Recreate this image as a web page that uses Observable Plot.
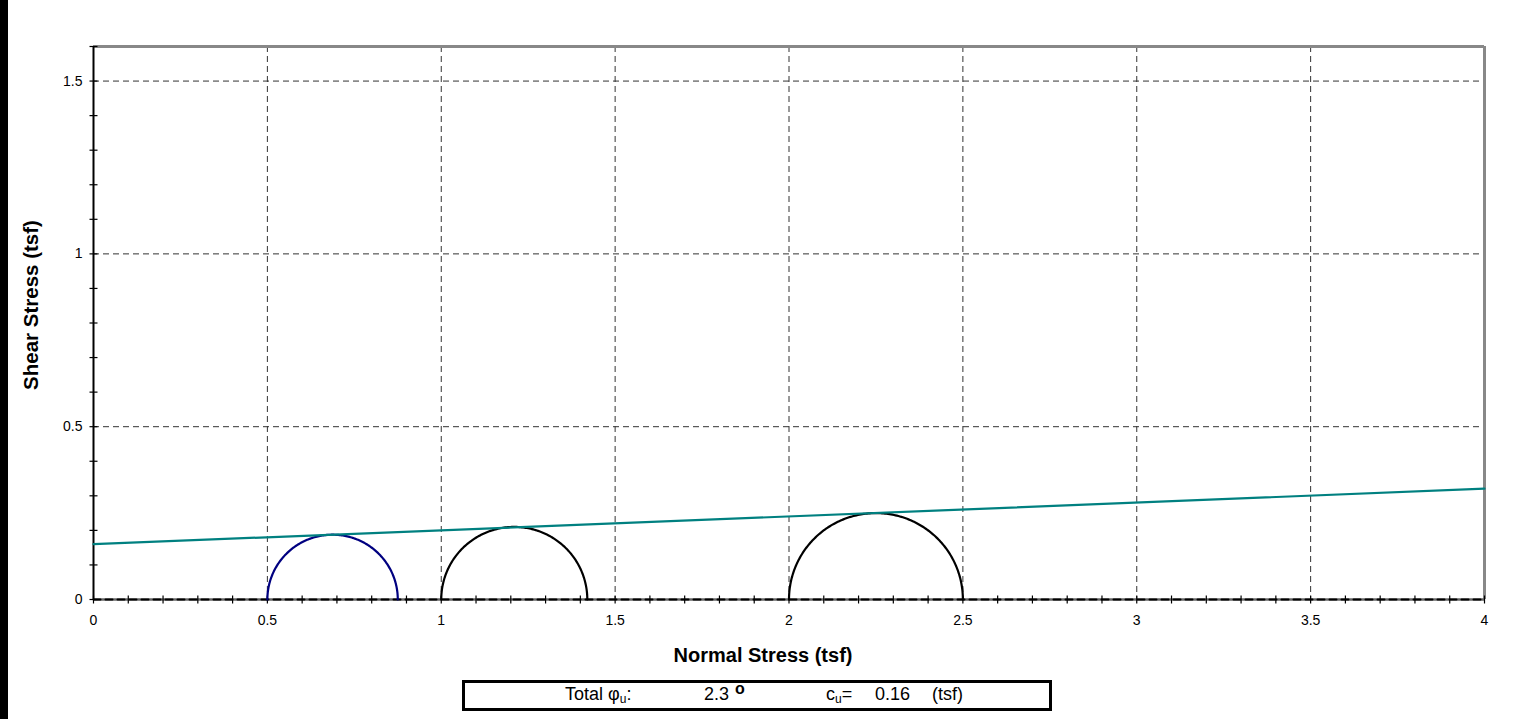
<!DOCTYPE html>
<html>
<head>
<meta charset="utf-8">
<script src="https://cdn.jsdelivr.net/npm/d3@7"></script>
<script src="https://cdn.jsdelivr.net/npm/@observablehq/plot@0.6"></script>
<style>
  html, body { margin: 0; padding: 0; background: #fff; }
  body { width: 1526px; height: 719px; position: relative; overflow: hidden; font-family: "Liberation Sans", Arial, sans-serif; }
  #bar { position: absolute; left: 0; top: 0; width: 8px; height: 719px; background: #000; }
  #chart { position: absolute; left: 0; top: 0; }
  #box { position: absolute; left: 462px; top: 680px; width: 584px; height: 25px; border: 3px solid #000; font-size: 18px; color: #000; }
  #box span { position: absolute; top: 1px; white-space: nowrap; }
  sub { font-size: 12px; vertical-align: -3px; line-height: 0; }
  sup { font-size: 16px; font-weight: bold; vertical-align: 6px; line-height: 0; }
</style>
</head>
<body>
<div id="bar"></div>
<div id="chart"></div>
<div id="box"></div>
<script>
// ---- data ----
const sigma3 = [0.5, 1.0, 2.0];          // minor principal stress (tsf)
const sigma1 = [0.875, 1.42, 2.5];       // major principal stress (tsf)
const circleColors = ["#000080", "#000000", "#000000"];
const phiDeg = 2.3;                       // total friction angle (deg)
const cu = 0.16;                          // cohesion (tsf)
const xTicks = [0, 0.5, 1, 1.5, 2, 2.5, 3, 3.5, 4];
const yTicks = [0, 0.5, 1, 1.5];
const xMinor = d3.range(0, 41).map(i => i / 10);
const yMinor = d3.range(0, 17).map(i => i / 10);
const xDomain = [0, 4];
const yDomain = [0, 1.6];

// Mohr circles (upper halves) built from the principal stresses
const circles = [];
sigma3.forEach((s3, i) => {
  const c = (s3 + sigma1[i]) / 2, r = (sigma1[i] - s3) / 2;
  d3.range(0, 181).forEach(a => {
    const t = Math.PI - a * Math.PI / 180;
    circles.push({id: i, x: c + r * Math.cos(t), y: r * Math.sin(t), color: circleColors[i]});
  });
});
const envelope = xDomain.map(x => ({x, y: cu + Math.tan(phiDeg * Math.PI / 180) * x}));
const baseLine = xDomain.map(x => ({x, y: 0}));

const hTick = {draw(ctx, size) { const r = Math.sqrt(size / Math.PI); ctx.moveTo(-r, 0); ctx.lineTo(r, 0); }};
const vTick = {draw(ctx, size) { const r = Math.sqrt(size / Math.PI); ctx.moveTo(0, -r); ctx.lineTo(0, r); }};
const fmt = d => String(d);

const plot = Plot.plot({
  width: 1526,
  height: 676,
  marginLeft: 93,
  marginRight: 42,
  marginTop: 46,
  marginBottom: 77,
  x: {domain: xDomain, axis: null},
  y: {domain: yDomain, axis: null},
  style: {fontFamily: "'Liberation Sans', Arial, sans-serif", background: "transparent"},
  marks: [
    Plot.ruleX(xTicks.filter(d => d > 0 && d < 4), {stroke: "#333", strokeWidth: 1, strokeDasharray: "6,4"}),
    Plot.ruleY(yTicks.filter(d => d > 0), {stroke: "#333", strokeWidth: 1, strokeDasharray: "6,4"}),
    Plot.ruleY([yDomain[1]], {stroke: "#888", strokeWidth: 3}),
    Plot.ruleX([xDomain[1]], {stroke: "#888", strokeWidth: 3}),
    Plot.ruleY([0], {stroke: "#666", strokeWidth: 2.5}),
    Plot.ruleX([0], {stroke: "#000", strokeWidth: 2}),
    Plot.dot(yMinor, {x: 0, y: d => d, symbol: hTick, r: 4, stroke: "#000", strokeWidth: 1.2}),
    Plot.dot(xMinor, {x: d => d, y: 0, symbol: vTick, r: 4, stroke: "#000", strokeWidth: 1.2}),
    Plot.line(baseLine, {x: "x", y: "y", stroke: "#000", strokeWidth: 2, strokeDasharray: "7,5"}),
    Plot.line(circles, {x: "x", y: "y", z: "id", stroke: d => d.color, strokeWidth: 2.2}),
    Plot.line(envelope, {x: "x", y: "y", stroke: "#008080", strokeWidth: 2.2}),
    Plot.text(xTicks, {x: d => d, frameAnchor: "bottom", dy: 25, text: fmt, fontSize: 14, fill: "#000"}),
    Plot.text(yTicks, {y: d => d, frameAnchor: "left", dx: -11, textAnchor: "end", text: fmt, fontSize: 14, fill: "#000"}),
    Plot.text(["Normal Stress (tsf)"], {frameAnchor: "bottom", dx: -26, dy: 62, fontSize: 20, fontWeight: "bold", fill: "#000"}),
    Plot.text(["Shear Stress (tsf)"], {frameAnchor: "left", dx: -62, dy: -18, rotate: -90, textAnchor: "middle", fontSize: 20.5, fontWeight: "bold", fill: "#000"})
  ]
});
document.getElementById("chart").appendChild(plot);

const box = document.getElementById("box");
const items = [
  [100, "Total &phi;<sub>u</sub>:"],
  [239, String(phiDeg)],
  [270, "<sup>o</sup>"],
  [361, "c<sub>u</sub>="],
  [410, cu.toFixed(2)],
  [467, "(tsf)"]
];
items.forEach(([left, html]) => {
  const s = document.createElement("span");
  s.style.left = left + "px";
  s.innerHTML = html;
  box.appendChild(s);
});
</script>
</body>
</html>
